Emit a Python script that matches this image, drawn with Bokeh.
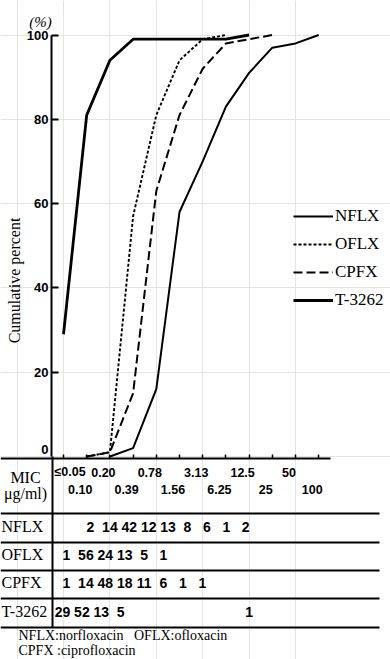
import numpy as np
from bokeh.plotting import figure
from bokeh.models import Range1d, LinearAxis, FixedTicker
from bokeh.core.properties import value
from bokeh.embed import file_html
from bokeh.resources import INLINE

# ---------------- data ----------------
mic_labels = ["≤0.05", "0.10", "0.20", "0.39", "0.78", "1.56",
              "3.13", "6.25", "12.5", "25", "50", "100"]
drugs = ["NFLX", "OFLX", "CPFX", "T-3262"]

# number of strains per MIC category (None = blank cell)
nflx_counts = [None, None, None, 2, 14, 42, 12, 13, 8, 6, 1, 2]
oflx_counts = [None, None, 1, 56, 24, 13, 5, 1, None, None, None, None]
cpfx_counts = [None, None, 1, 14, 48, 18, 11, 6, 1, 1, None, None]
t3262_counts = [29, 52, 13, 5, None, None, None, None, 1, None, None, None]

# cumulative percent curves (MIC category index, %)
nflx_idx = [2, 3, 4, 5, 6, 7, 8, 9, 10, 11]
nflx_cum = [0, 2, 16, 58, 70, 83, 91, 97, 98, 100]
oflx_idx = [1, 2, 3, 4, 5, 6, 7]
oflx_cum = [0, 1, 57, 81, 94, 99, 100]
cpfx_idx = [1, 2, 3, 4, 5, 6, 7, 8, 9]
cpfx_cum = [0, 1, 15, 63, 81, 92, 98, 99, 100]
t3262_idx = [0, 1, 2, 3, 4, 5, 6, 7, 8]
t3262_cum = [29, 81, 94, 99, 99, 99, 99, 99, 100]

y_ticks = [20, 40, 60, 80, 100]
footnotes = ["NFLX:norfloxacin\u00a0\u00a0\u00a0OFLX:ofloxacin", "CPFX\u00a0:ciprofloxacin"]

# ---------------- layout (page pixels) ----------------
W, H = 390, 659
LEFT, TOP = 0, 0
RIGHT, BOTTOM = LEFT + W, TOP + H
X0, DX = 63.0, 23.2      # page x of first MIC category, px per category
Y0, DY = 456.0, 4.215    # page y of 0 %, px per %

def xd(px):
    return (px - X0) / DX

SERIF = value("Liberation Serif")
SANS = value("Liberation Sans")

p = figure(width=W, height=H, output_backend="svg", toolbar_location=None,
           x_axis_location=None, y_axis_location=None, title=None,
           x_range=Range1d(xd(LEFT), xd(RIGHT)),
           y_range=Range1d((Y0 - BOTTOM) / DY, (Y0 - TOP) / DY),
           min_border=0, outline_line_color=None)
p.extra_x_ranges = {"px": Range1d(LEFT, RIGHT)}
p.extra_y_ranges = {"py": Range1d(BOTTOM, TOP)}
p.background_fill_color = "white"
p.border_fill_color = "white"

# ---------------- axes ----------------
yax = LinearAxis(fixed_location=xd(51), bounds=(0, 100),
                 ticker=FixedTicker(ticks=y_ticks),
                 axis_line_width=2, axis_line_color="black",
                 major_tick_in=7, major_tick_out=0, major_tick_line_width=2,
                 minor_tick_in=0, minor_tick_out=0,
                 major_label_standoff=3,
                 major_label_text_font="Liberation Sans",
                 major_label_text_font_style="bold",
                 major_label_text_font_size="13px",
                 major_label_text_color="black")
p.add_layout(yax, "left")

xax = LinearAxis(fixed_location=-0.4, bounds=(xd(0), xd(330)),
                 ticker=FixedTicker(ticks=list(range(len(mic_labels)))),
                 axis_line_width=2, axis_line_color="black",
                 major_tick_in=4, major_tick_out=0, major_tick_line_width=1.5,
                 minor_tick_in=0, minor_tick_out=0,
                 major_label_text_color=None)
p.add_layout(xax, "below")

# ---------------- curves ----------------
p.line(nflx_idx, nflx_cum, line_color="black", line_width=2, legend_label="NFLX")
p.line(oflx_idx, oflx_cum, line_color="black", line_width=1.9, line_dash="3 2", legend_label="OFLX")
p.line(cpfx_idx, cpfx_cum, line_color="black", line_width=2, line_dash="9 4", legend_label="CPFX")
p.line(t3262_idx, t3262_cum, line_color="black", line_width=2.8, legend_label="T-3262")

# legend: first row centred at page y 215.7, glyphs start at page x 293
lg = p.legend[0]
lg.location = (293 - LEFT, BOTTOM - (215.7 - 10 + 104))
lg.glyph_width = 40
lg.glyph_height = 20
lg.label_height = 20
lg.spacing = 8
lg.padding = 0
lg.margin = 0
lg.label_standoff = 2
lg.border_line_color = None
lg.background_fill_alpha = 0
lg.label_text_font = "Liberation Serif"
lg.label_text_font_size = "17px"
lg.label_text_color = "black"

# ---------------- axis decorations ----------------
def txt(x, y, t, size, font=SERIF, align="left", style="normal", angle=0, xr="px"):
    kw = dict(x_range_name=xr, y_range_name="py") if xr == "px" else dict(y_range_name="py")
    p.text(x=x, y=y, text=t, text_font=font, text_font_size=size,
           text_align=align, text_baseline="middle", text_font_style=style,
           text_color="black", angle=angle, **kw)

txt([40], [21], ["(%)"], "15px", align="center", style="italic")
txt([14], [280], ["Cumulative percent"], "16px", align="center", angle=np.pi / 2)
txt([48], [449], ["0"], "13px", font=SANS, align="right", style="bold")

# staggered MIC labels under the ticks
top_i = list(range(2, len(mic_labels), 2))
bot_i = list(range(1, len(mic_labels), 2))
txt([xd(54)], [471.5], [mic_labels[0]], "12.5px", font=SANS, style="bold", xr="data")
txt([i - 0.28 for i in top_i], [471.5] * len(top_i), [mic_labels[i] for i in top_i],
    "12.5px", font=SANS, align="center", style="bold", xr="data")
txt([i - 0.28 for i in bot_i], [488.5] * len(bot_i), [mic_labels[i] for i in bot_i],
    "12.5px", font=SANS, align="center", style="bold", xr="data")

# ---------------- table ----------------
row_lines = [513, 542, 570, 598, 627]
p.segment(x0=[0] * len(row_lines), x1=[379] * len(row_lines), y0=row_lines, y1=row_lines,
          line_color="black", line_width=1.8, x_range_name="px", y_range_name="py")
p.segment(x0=[52], x1=[52], y0=[456], y1=[627], line_color="black", line_width=2,
          x_range_name="px", y_range_name="py")

txt([25], [477], ["MIC"], "16px", align="center")
txt([25], [493], ["μg/ml)"], "16px", align="center")

table_rows = [nflx_counts, oflx_counts, cpfx_counts, t3262_counts]
row_y = [526, 554, 582, 611]
row_x0 = [90, 66, 66, 62]
TBL_STEP = 19.4
for name, counts, ry, rx in zip(drugs, table_rows, row_y, row_x0):
    txt([1], [ry], [name], "16px")
    xs, ts = [], []
    k, started, gap = 0, False, False
    for i, c in enumerate(counts):
        if c is None:
            if started:
                gap = True
            continue
        if gap:
            xs.append(X0 + i * DX)
        else:
            xs.append(rx + k * TBL_STEP)
        ts.append(str(c))
        started = True
        k += 1
    txt(xs, [ry] * len(xs), ts, "14px", font=SANS, align="center", style="bold")

txt([18], [635], [footnotes[0]], "14px")
txt([18], [650], [footnotes[1]], "14px")

open("out.html", "w").write(file_html(p, INLINE))
